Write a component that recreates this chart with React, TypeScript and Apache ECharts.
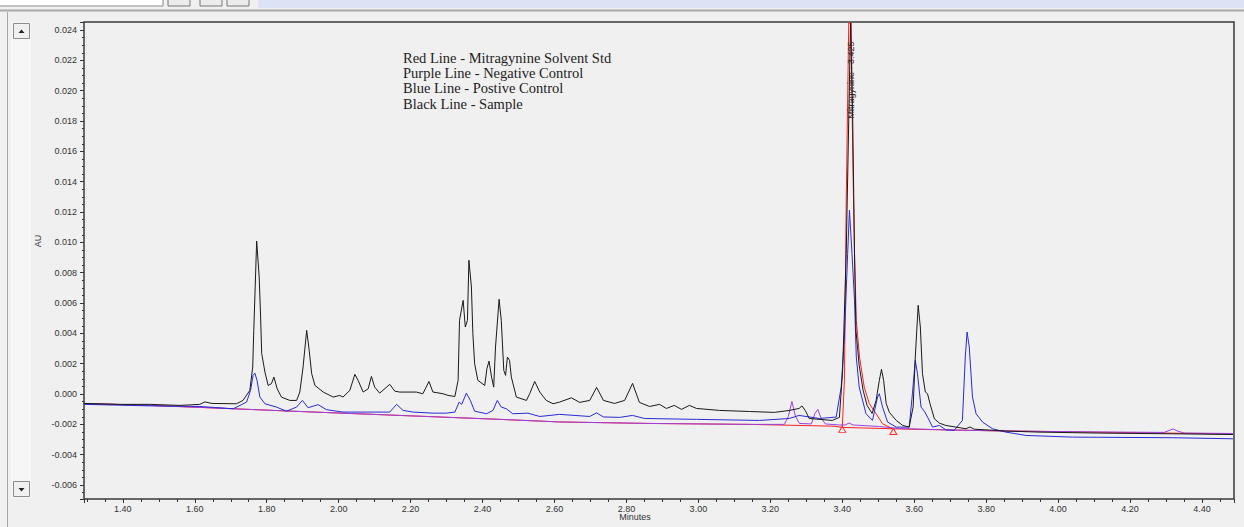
import React, { useEffect, useRef } from "react";
import * as echarts from "echarts";

// ---- data (minutes, AU) ----
const sampleData: [number, number][] = [
  [1.292,-0.00062],[1.392,-0.00068],[1.475,-0.00068],[1.559,-0.00075],[1.614,-0.00068],[1.628,-0.00052],[1.648,-0.00062],[1.716,-0.00064],[1.734,-0.00042],[1.753,0.00024],[1.761,0.00178],[1.764,0.0042],[1.772,0.01009],[1.779,0.00772],[1.783,0.00508],[1.786,0.00268],[1.795,0.00145],[1.804,0.00057],[1.813,0.00068],[1.82,0.00112],[1.829,0.00035],[1.841,-0.0002],[1.864,-0.00042],[1.883,-0.00042],[1.892,0.00013],[1.901,0.00178],[1.911,0.0042],[1.918,0.00288],[1.925,0.00134],[1.934,0.00057],[1.957,0.00013],[1.985,-0.0002],[2.003,-0.00009],[2.012,-0.0002],[2.031,0.00024],[2.045,0.0013],[2.054,0.0009],[2.068,0.00013],[2.082,0.00035],[2.091,0.00116],[2.1,0.00046],[2.114,0.00006],[2.142,0.00064],[2.156,0.00019],[2.17,0.00013],[2.216,0.00013],[2.234,0.00002],[2.251,0.00083],[2.262,0.00013],[2.29,0.00002],[2.304,-0.00009],[2.323,-0.00016],[2.332,0.0009],[2.336,0.00486],[2.346,0.00618],[2.352,0.00442],[2.358,0.00486],[2.362,0.00882],[2.369,0.00706],[2.373,0.00398],[2.378,0.002],[2.387,0.0009],[2.406,0.00057],[2.412,0.00167],[2.418,0.00217],[2.425,0.00112],[2.431,0.00046],[2.436,0.0031],[2.446,0.00625],[2.452,0.00486],[2.459,0.00156],[2.464,0.00123],[2.469,0.00244],[2.475,0.00222],[2.48,0.00112],[2.494,-0.0002],[2.522,-0.00042],[2.531,0.00002],[2.545,0.00083],[2.559,0.00013],[2.577,-0.00042],[2.596,-0.00064],[2.614,-0.00053],[2.647,-0.00025],[2.67,-0.00055],[2.698,-0.00042],[2.717,0.00044],[2.736,-0.00042],[2.767,-0.00062],[2.795,-0.00042],[2.817,0.0007],[2.836,-0.00055],[2.864,-0.00082],[2.892,-0.00068],[2.911,-0.00095],[2.933,-0.00075],[2.953,-0.00101],[2.975,-0.00075],[2.995,-0.00095],[3.059,-0.00108],[3.142,-0.00115],[3.211,-0.00121],[3.253,-0.00108],[3.28,-0.00095],[3.288,-0.00078],[3.297,-0.00108],[3.308,-0.00161],[3.372,-0.00174],[3.392,-0.00154],[3.401,0.00156],[3.411,0.00928],[3.418,0.01806],[3.423,0.02446],[3.429,0.01806],[3.434,0.00928],[3.438,0.0042],[3.447,0.00189],[3.458,0.00024],[3.469,-0.00075],[3.483,-0.00128],[3.494,-0.00042],[3.503,0.0009],[3.509,0.00163],[3.515,0.0009],[3.522,-0.00062],[3.531,-0.00121],[3.55,-0.00174],[3.568,-0.00207],[3.586,-0.00218],[3.597,-0.00086],[3.603,0.00244],[3.611,0.00585],[3.617,0.00442],[3.623,0.00134],[3.631,0.00013],[3.637,0.00002],[3.644,-0.00064],[3.656,-0.00163],[3.67,-0.00192],[3.688,-0.00207],[3.716,-0.00218],[3.744,-0.00229],[3.755,-0.00217],[3.767,-0.00232],[3.799,-0.00236],[3.855,-0.00244],[3.947,-0.00251],[4.133,-0.00258],[4.318,-0.00262],[4.486,-0.00267]
];

const positiveData: [number, number][] = [
  [1.292,-0.00068],[1.475,-0.00078],[1.614,-0.00082],[1.707,-0.00097],[1.744,-0.00053],[1.755,0.00024],[1.762,0.00123],[1.767,0.00138],[1.773,0.0009],[1.781,-0.0002],[1.795,-0.00064],[1.827,-0.00086],[1.855,-0.00113],[1.883,-0.00086],[1.899,-0.00042],[1.915,-0.0009],[1.943,-0.0007],[1.966,-0.00103],[2.012,-0.00119],[2.077,-0.00119],[2.142,-0.00119],[2.161,-0.00068],[2.179,-0.00108],[2.207,-0.00119],[2.262,-0.00126],[2.299,-0.00126],[2.323,-0.00119],[2.335,-0.00053],[2.342,-0.00068],[2.355,0.00006],[2.366,-0.00042],[2.378,-0.00113],[2.411,-0.0013],[2.429,-0.00108],[2.441,-0.00042],[2.452,-0.00086],[2.466,-0.00097],[2.484,-0.0013],[2.526,-0.00126],[2.559,-0.00148],[2.614,-0.00134],[2.698,-0.00148],[2.717,-0.00124],[2.736,-0.00151],[2.781,-0.00154],[2.817,-0.00141],[2.85,-0.00161],[2.995,-0.00167],[3.17,-0.00174],[3.253,-0.00161],[3.28,-0.00141],[3.336,-0.00161],[3.383,-0.00152],[3.397,0.00046],[3.406,0.00376],[3.415,0.00928],[3.42,0.01212],[3.427,0.00928],[3.434,0.00618],[3.439,0.00244],[3.447,0.00046],[3.466,-0.0013],[3.484,-0.00174],[3.498,-0.0002],[3.503,0.00002],[3.512,-0.00086],[3.526,-0.00185],[3.55,-0.00218],[3.586,-0.00218],[3.595,0.00002],[3.603,0.00222],[3.609,0.00134],[3.619,-0.00086],[3.628,-0.00113],[3.637,-0.00152],[3.651,-0.00218],[3.67,-0.00207],[3.688,-0.00236],[3.711,-0.0024],[3.734,-0.00174],[3.742,0.00244],[3.747,0.00409],[3.753,0.0031],[3.762,-0.0002],[3.772,-0.0013],[3.79,-0.00185],[3.818,-0.00229],[3.855,-0.00251],[3.911,-0.00273],[4.04,-0.00284],[4.318,-0.00288],[4.486,-0.00295]
];

const negativeData: [number, number][] = [
  [1.292,-0.00062],[1.475,-0.00075],[1.614,-0.00088],[1.892,-0.00115],[2.17,-0.00141],[2.448,-0.00167],[2.614,-0.00184],[2.864,-0.00194],[3.142,-0.002],[3.239,-0.002],[3.25,-0.00148],[3.26,-0.00049],[3.27,-0.00148],[3.281,-0.00194],[3.314,-0.00197],[3.324,-0.00128],[3.332,-0.00101],[3.34,-0.00154],[3.353,-0.00197],[3.392,-0.00204],[3.408,-0.00204],[3.419,-0.00191],[3.43,-0.00204],[3.503,-0.00214],[3.559,-0.00227],[3.698,-0.00237],[3.836,-0.00243],[4.114,-0.0025],[4.295,-0.00253],[4.309,-0.0024],[4.32,-0.0023],[4.331,-0.00243],[4.35,-0.00257],[4.486,-0.0026]
];

const standardData: [number, number][] = [
  [1.292,-0.00062],[1.475,-0.00075],[1.614,-0.00088],[1.892,-0.00115],[2.17,-0.00141],[2.448,-0.00167],[2.614,-0.00184],[2.864,-0.00194],[3.142,-0.002],[3.378,-0.00212],[3.4,-0.0022],[3.406,0.0009],[3.411,0.01278],[3.418,0.02446],[3.425,0.02446],[3.429,0.01588],[3.434,0.00928],[3.439,0.00486],[3.448,0.00244],[3.461,0.00046],[3.475,-0.00062],[3.494,-0.0013],[3.512,-0.00196],[3.54,-0.00229],[3.614,-0.00233],[3.836,-0.00243],[4.486,-0.00263]
];

const peakLabel = "Mitragynine - 3.425";
const peakLabelAt: [number, number] = [3.424, 0.0207];
const integrationStart: [number, number] = [3.4, -0.0022];
const integrationEnd: [number, number] = [3.54, -0.00229];
const markerStart: [number, number] = [3.4, -0.00233];
const markerEnd: [number, number] = [3.542, -0.00247];

const legendLines = [
  "Red Line - Mitragynine Solvent Std",
  "Purple Line - Negative Control",
  "Blue Line - Postive Control",
  "Black Line - Sample",
];

const X_MIN = 1.292;
const X_MAX = 4.489;
const Y_MIN = -0.00692;
const Y_MAX = 0.02453;

const SANS = "'Liberation Sans', Arial, sans-serif";
const SERIF = "'Liberation Serif', 'Times New Roman', serif";

export default function App() {
  const ref = useRef<HTMLDivElement>(null);

  useEffect(() => {
    if (!ref.current) return;
    const chart = echarts.init(ref.current, undefined, { renderer: "svg" });

    const lineSeries = (name: string, data: [number, number][], color: string, z: number, extra: any = {}) => ({
      name,
      type: "line",
      data,
      showSymbol: false,
      symbol: "none",
      silent: true,
      z,
      lineStyle: { color, width: 1 },
      itemStyle: { color },
      ...extra,
    });

    const graphics: any[] = [
      { type: "rect", shape: { x: 258, y: 0, width: 986, height: 8 }, style: { fill: "#dce3f5" }, silent: true },
      { type: "rect", shape: { x: -1, y: -1, width: 164, height: 7 }, style: { fill: "#ffffff", stroke: "#8a8a8a", lineWidth: 1 }, silent: true },
      { type: "rect", shape: { x: 168, y: -1, width: 22, height: 7 }, style: { fill: "#ececec", stroke: "#777", lineWidth: 1 }, silent: true },
      { type: "rect", shape: { x: 200, y: -1, width: 22, height: 7 }, style: { fill: "#ececec", stroke: "#777", lineWidth: 1 }, silent: true },
      { type: "rect", shape: { x: 227, y: -1, width: 22, height: 7 }, style: { fill: "#ececec", stroke: "#777", lineWidth: 1 }, silent: true },
      { type: "line", shape: { x1: 0, y1: 10.5, x2: 1244, y2: 10.5 }, style: { stroke: "#a8a8a8", lineWidth: 2 }, silent: true },
      { type: "line", shape: { x1: 7.5, y1: 12, x2: 7.5, y2: 527 }, style: { stroke: "#a8a8a8", lineWidth: 1 }, silent: true },
      { type: "rect", shape: { x: 11, y: 22, width: 20, height: 476 }, style: { fill: "#f6f6f6" }, silent: true },
      { type: "rect", shape: { x: 13.5, y: 23.5, width: 16, height: 15 }, style: { fill: "#f0f0f0", stroke: "#8c8c8c", lineWidth: 1 }, silent: true },
      { type: "polygon", shape: { points: [[18.5, 33], [24.5, 33], [21.5, 29.5]] }, style: { fill: "#222" }, silent: true },
      { type: "rect", shape: { x: 13.5, y: 481.5, width: 16, height: 15 }, style: { fill: "#f0f0f0", stroke: "#8c8c8c", lineWidth: 1 }, silent: true },
      { type: "polygon", shape: { points: [[18.5, 488], [24.5, 488], [21.5, 491.5]] }, style: { fill: "#222" }, silent: true },
      {
        type: "text", x: 38, y: 241, rotation: Math.PI / 2,
        style: { text: "AU", fontSize: 9, fontFamily: SANS, fill: "#333", align: "center", verticalAlign: "middle" },
        silent: true,
      },
      {
        type: "text", x: 635, y: 517,
        style: { text: "Minutes", fontSize: 9, fontFamily: SANS, fill: "#333", align: "center", verticalAlign: "middle" },
        silent: true,
      },
      ...legendLines.map((t, i) => ({
        type: "text", x: 403, y: 57.5 + i * 15.4,
        style: { text: t, fontSize: 14.5, fontFamily: SERIF, fill: "#222", align: "left", verticalAlign: "middle" },
        silent: true,
      })),
    ];

    chart.setOption({
      animation: false,
      backgroundColor: "#f0f0f0",
      grid: {
        left: 84, top: 22, width: 1150, height: 477,
        show: true, borderColor: "#3a3a3a", borderWidth: 1.5, backgroundColor: "transparent",
        containLabel: false,
      },
      xAxis: {
        type: "value", min: X_MIN, max: X_MAX, splitNumber: 16,
        axisLine: { show: false, onZero: false },
        splitLine: { show: false },
        axisTick: { show: true, length: 4, lineStyle: { color: "#333", width: 1 } },
        minorTick: { show: true, splitNumber: 4, length: 3, lineStyle: { color: "#333", width: 1 } },
        axisLabel: {
          interval: 0, showMinLabel: false, showMaxLabel: false, margin: 5,
          fontSize: 9, fontFamily: SANS, color: "#333",
          formatter: (v: number) => v.toFixed(2),
        },
      },
      yAxis: {
        type: "value", min: Y_MIN, max: Y_MAX, splitNumber: 15,
        axisLine: { show: false, onZero: false },
        splitLine: { show: false },
        axisTick: { show: true, length: 4, lineStyle: { color: "#333", width: 1 } },
        minorTick: { show: true, splitNumber: 4, length: 2, lineStyle: { color: "#333", width: 1 } },
        axisLabel: {
          interval: 0, showMinLabel: false, showMaxLabel: false, margin: 7,
          fontSize: 9, fontFamily: SANS, color: "#333",
          formatter: (v: number) => (Math.abs(v) < 1e-9 ? "0.000" : v.toFixed(3)),
        },
      },
      graphic: graphics,
      series: [
        lineSeries("Red Line - Mitragynine Solvent Std", standardData, "#ff2020", 1, {
          markLine: {
            silent: true, symbol: ["none", "none"], animation: false,
            lineStyle: { color: "#ff2020", width: 1, type: "solid" },
            label: { show: false },
            data: [[{ coord: integrationStart }, { coord: integrationEnd }]],
          },
          markPoint: {
            silent: true, animation: false,
            data: [
              {
                coord: peakLabelAt, symbol: "rect", symbolSize: 1,
                itemStyle: { color: "rgba(0,0,0,0)" },
                label: { show: true, formatter: peakLabel, rotate: 90, position: "inside", fontSize: 9, fontFamily: SANS, color: "#3a2020" },
              },
              {
                coord: markerStart, symbol: "triangle", symbolSize: [7, 6],
                itemStyle: { color: "rgba(0,0,0,0)", borderColor: "#ff3030", borderWidth: 1 },
                label: { show: false },
              },
              {
                coord: markerEnd, symbol: "triangle", symbolSize: [7, 6],
                itemStyle: { color: "rgba(0,0,0,0)", borderColor: "#ff3030", borderWidth: 1 },
                label: { show: false },
              },
            ],
          },
        }),
        lineSeries("Purple Line - Negative Control", negativeData, "#9b40dc", 2),
        lineSeries("Blue Line - Postive Control", positiveData, "#2a2ad6", 3),
        lineSeries("Black Line - Sample", sampleData, "#1a1a1a", 4),
      ],
    });

    return () => chart.dispose();
  }, []);

  return (
    <div
      ref={ref}
      style={{ position: "fixed", left: 0, top: 0, width: 1244, height: 527 }}
    />
  );
}
